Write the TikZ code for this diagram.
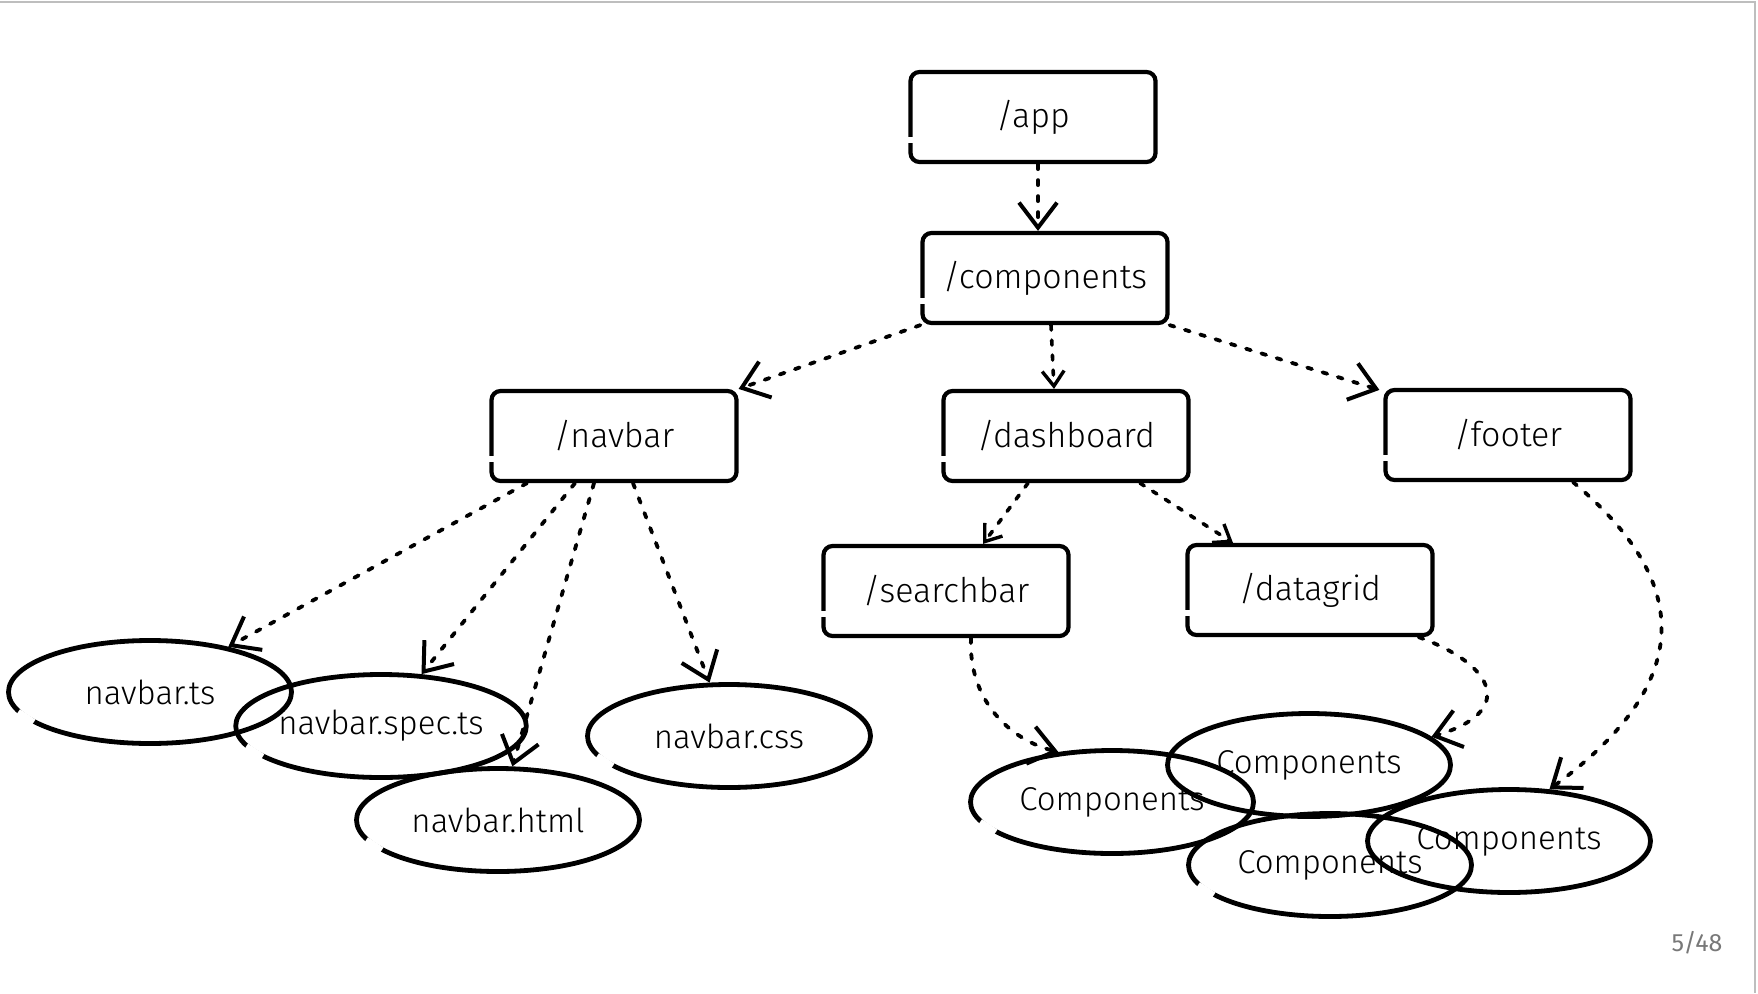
\documentclass[tikz,border=0pt]{standalone}
\usepackage{fontspec}
\setmainfont{Fira Sans}[UprightFont={* Light}]
\newfontfamily\pagefont{Fira Sans}
\usetikzlibrary{arrows.meta,shapes.geometric,calc}
\definecolor{framegray}{RGB}{190,190,190}
\definecolor{pagegray}{RGB}{120,120,120}
\tikzset{
  box/.style={draw, line width=4.2pt, rounded corners=9pt, minimum width=245pt,
    minimum height=90pt, inner sep=0pt, font=\fontsize{34}{40}\selectfont},
  oval/.style={draw, ellipse, line width=4.8pt, minimum width=283pt,
    minimum height=103pt, inner sep=0pt, font=\fontsize{33}{40}\selectfont},
  conn/.style={line width=3.8pt, dash pattern=on 5pt off 11pt, line cap=round,
    -{Straight Barb[length=25pt,width=38pt,line width=4pt]}},
  sconn/.style={line width=3.6pt, dash pattern=on 5pt off 10pt, line cap=round,
    -{Straight Barb[length=15pt,width=22pt,line width=3.4pt]}},
  gapbox/.style={fill=white},
  gapoval/.style={draw=white, line width=9pt},
}
\begin{document}
\begin{tikzpicture}[x=1pt,y=1pt]
\useasboundingbox (0,0) rectangle (1758,-993);
% page frame
\coordinate (tl) at (0,-2);
\coordinate (tr) at (1755,-2);
\coordinate (br) at (1755,-993);
\draw[framegray, line width=2pt] (tl) -- (tr) -- (br);
% boxes
\node[box] (app) at (1033,-117) {/app};
\node[box] (components) at (1045,-278) {/components};
\node[box] (navbar) at (614,-436) {/navbar};
\node[box] (dashboard) at (1066,-436) {/dashboard};
\node[box] (footer) at (1508,-435) {/footer};
\node[box] (searchbar) at (946,-591) {/searchbar};
\node[box] (datagrid) at (1310,-590) {/datagrid};
% hand-drawn breaks in the box outlines
\foreach \b in {app,components,navbar,dashboard,footer,searchbar,datagrid}{
  \fill[gapbox] ($(\b.west)+(-5,-20)$) rectangle ($(\b.west)+(5,-26)$);
}
% ellipses
\node[oval] (ts) at (150,-692) {navbar.ts};
\node[oval] (spec) at (381,-726) {navbar.spec.ts};
\node[oval] (html) at (498,-820) {navbar.html};
\node[oval] (css) at (729,-736) {navbar.css};
\node[oval] (c1) at (1112,-802) {Components};
\node[oval] (c2) at (1309,-765) {Components};
\node[oval] (c3) at (1330,-865) {Components};
\node[oval] (c4) at (1509,-841) {Components};
% hand-drawn breaks in the ellipse outlines
\foreach \e in {ts,spec,html,css,c1,c3}{
  \draw[gapoval] (\e.189) -- (\e.195);
}
% connectors
\draw[conn] ($(app.south)+(5,0)$) -- ($(components.north)+(-7,0)$);
\draw[conn] (components.south west) -- (navbar.north east);
\draw[sconn] ($(components.south)+(6,0)$) -- ($(dashboard.north)+(-12,0)$);
\draw[conn] (components.south east) -- ($(footer.north west)+(-4,-2)$);
\draw[conn] ($(navbar.south)+(-87,0)$) -- (ts.30);
\draw[conn] ($(navbar.south)+(-39,0)$) -- (spec.52);
\draw[conn] ($(navbar.south)+(-20,0)$) -- (html.75);
\draw[conn] ($(navbar.south)+(19,0)$) -- (css.110);
\draw[sconn] ($(dashboard.south)+(-38,0)$) -- ($(searchbar.north)+(37,0)$);
\draw[sconn] ($(dashboard.south)+(74,0)$) -- ($(datagrid.north)+(-77,0)$);
\draw[conn] ($(searchbar.south)+(25,0)$) .. controls (968,-700) and (1010,-740) .. (c1.137);
\draw[conn] ($(datagrid.south east)+(-16,0)$) .. controls (1496,-665) and (1516,-712) .. (c2.13);
\draw[conn] ($(footer.south)+(65,0)$) .. controls (1672,-565) and (1716,-668) .. (c4.52);
% page number
\node[text=pagegray, font=\pagefont\fontsize{25}{30}\selectfont] (pg) at (1697,-943) {5/48};
\end{tikzpicture}
\end{document}
